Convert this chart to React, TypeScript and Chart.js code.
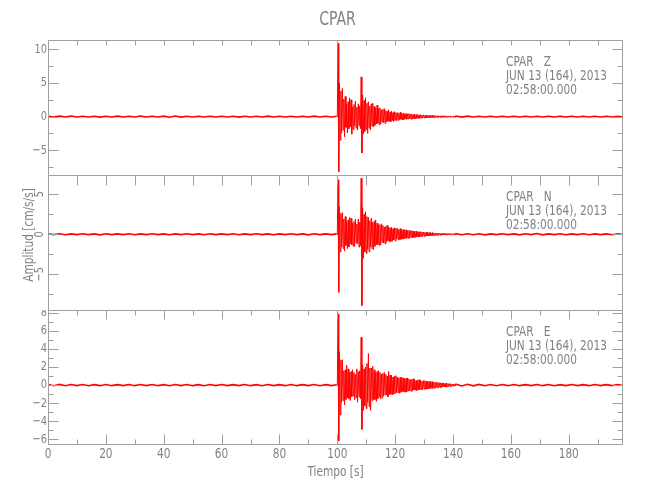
import React, { useEffect, useRef } from "react";
import { Chart, registerables } from "chart.js";

Chart.register(...registerables);

// ---------- axis data ----------
const timeMin = 0;
const timeMax = 198.75;
const timeMajorTicks = [0, 20, 40, 60, 80, 100, 120, 140, 160, 180];
const timeMinorTicks = [10, 30, 50, 70, 90, 110, 130, 150, 170, 190];

const preStart = 0;
const preStep = 2;
const eventStart = 99.75;
const eventStep = 0.25;
const codaStart = 141;
const codaStep = 2;

// ---------- Z component (cm/s/s) ----------
const zPre = [
  0.05, -0.06, 0.07, -0.05, 0.08, -0.06, 0.05, -0.05, 0.06, -0.08,
  0.05, -0.05, 0.07, -0.06, 0.05, -0.06, 0.08, -0.05, 0.05, -0.06,
  0.07, -0.1, 0.1, -0.07, 0.05, -0.05, 0.06, -0.05, 0.05, -0.06,
  0.06, -0.05, 0.05, -0.07, 0.06, -0.05, 0.05, -0.06, 0.07, -0.05,
  0.05, -0.06, 0.06, -0.05, 0.05, -0.05, 0.07, -0.06, 0.05, -0.05,
];
const zEvent = [
  0.05, -0.05, 10.9, -8.2,
  5.0, -3.5, 3.8, -2.4,
  4.2, -2.0, 2.6, -3.0,
  3.0, -1.6, 1.8, -2.4,
  2.2, -1.8, 2.8, -1.5,
  2.5, -2.6, 1.4, -1.9,
  1.8, -1.4, 2.3, -1.7,
  1.4, -2.0, 1.9, -1.3,
  1.6, -1.8, 5.9, -5.4,
  3.2, -2.6, 2.4, -2.2,
  2.8, -1.9, 2.0, -2.5,
  2.2, -1.7, 1.6, -2.0,
  1.9, -1.4, 2.0, -1.5,
  1.5, -1.3, 1.3, -1.1,
  1.7, -1.0, 1.2, -1.2,
  1.3, -1.1, 1.0, -0.8,
  1.1, -0.9, 1.2, -1.0,
  0.9, -0.8, 0.8, -0.7,
  1.0, -0.7, 0.7, -0.75,
  0.8, -0.6, 0.6, -0.7,
  0.75, -0.5, 0.6, -0.6,
  0.6, -0.55, 0.5, -0.45,
  0.65, -0.4, 0.45, -0.5,
  0.5, -0.45, 0.4, -0.35,
  0.45, -0.4, 0.4, -0.35,
  0.45, -0.35, 0.35, -0.4,
  0.4, -0.3, 0.3, -0.35,
  0.35, -0.3, 0.3, -0.25,
  0.3, -0.28, 0.25, -0.25,
  0.28, -0.22, 0.22, -0.2,
  0.25, -0.2, 0.2, -0.22,
  0.22, -0.18, 0.18, -0.18,
  0.18, -0.16, 0.16, -0.14,
  0.2, -0.13, 0.13, -0.16,
  0.16, -0.12, 0.12, -0.12,
  0.15, -0.12, 0.1, -0.12,
  0.12, -0.1, 0.12, -0.1,
  0.12, -0.1, 0.1, -0.09,
  0.09, -0.09, 0.1, -0.08,
  0.1, -0.08, 0.08, -0.07,
  0.08, -0.07, 0.07, -0.08,
];
const zCoda = [
  0.08, -0.07, 0.07, -0.06, 0.06, -0.05, 0.05, -0.06, 0.05, -0.05,
  0.06, -0.05, 0.05, -0.06, 0.06, -0.05, 0.05, -0.05, 0.06, -0.06,
  0.05, -0.05, 0.06, -0.06, 0.05, -0.05, 0.06, -0.05, 0.05, -0.06,
];

// ---------- N component ----------
const nPre = [
  0.05, -0.05, 0.07, -0.06, 0.05, -0.05, 0.06, -0.05, 0.05, -0.07,
  0.06, -0.05, 0.05, -0.05, 0.07, -0.06, 0.05, -0.05, 0.06, -0.05,
  0.05, -0.06, 0.05, -0.05, 0.07, -0.05, 0.05, -0.06, 0.06, -0.05,
  0.05, -0.05, 0.07, -0.06, 0.05, -0.05, 0.06, -0.05, 0.05, -0.06,
  0.05, -0.05, 0.06, -0.05, 0.05, -0.07, 0.06, -0.05, 0.05, -0.05,
];
const nEvent = [
  0.05, -0.05, 6.8, -7.25,
  3.45, -2.2, 2.6, -1.6,
  2.7, -1.8, 1.9, -2.1,
  2.2, -1.4, 1.6, -1.8,
  1.8, -1.6, 2.1, -1.2,
  2.0, -1.3, 1.4, -1.5,
  1.6, -1.5, 1.9, -1.1,
  1.3, -1.2, 1.9, -1.6,
  1.5, -1.4, 7.0, -8.9,
  3.3, -3.0, 2.5, -2.2,
  2.8, -2.4, 2.2, -1.9,
  2.1, -2.2, 1.7, -1.6,
  2.0, -1.8, 1.5, -1.9,
  1.6, -1.5, 1.8, -1.3,
  1.4, -1.3, 1.2, -1.4,
  1.2, -1.3, 1.3, -1.0,
  1.1, -1.1, 0.9, -1.2,
  1.0, -1.0, 1.1, -0.8,
  0.9, -0.95, 0.8, -0.9,
  0.85, -0.9, 0.7, -0.7,
  0.8, -0.85, 0.75, -0.6,
  0.75, -0.7, 0.6, -0.65,
  0.7, -0.65, 0.55, -0.6,
  0.6, -0.6, 0.5, -0.5,
  0.55, -0.5, 0.45, -0.5,
  0.5, -0.5, 0.45, -0.4,
  0.45, -0.45, 0.4, -0.4,
  0.4, -0.4, 0.35, -0.35,
  0.35, -0.35, 0.3, -0.32,
  0.32, -0.28, 0.28, -0.27,
  0.28, -0.26, 0.24, -0.25,
  0.25, -0.22, 0.22, -0.2,
  0.22, -0.2, 0.18, -0.18,
  0.2, -0.17, 0.16, -0.16,
  0.16, -0.15, 0.13, -0.15,
  0.15, -0.12, 0.12, -0.12,
  0.12, -0.11, 0.11, -0.1,
  0.11, -0.1, 0.09, -0.1,
  0.09, -0.09, 0.1, -0.08,
  0.1, -0.08, 0.08, -0.08,
  0.08, -0.07, 0.07, -0.08,
];
const nCoda = [
  0.07, -0.06, 0.07, -0.06, 0.06, -0.07, 0.05, -0.05, 0.07, -0.05,
  0.05, -0.07, 0.07, -0.05, 0.1, -0.08, 0.05, -0.05, 0.07, -0.06,
  0.05, -0.05, 0.06, -0.06, 0.05, -0.05, 0.05, -0.06, 0.05, -0.05,
];

// ---------- E component ----------
const ePre = [
  0.07, -0.06, 0.08, -0.06, 0.07, -0.05, 0.06, -0.07, 0.05, -0.06,
  0.07, -0.06, 0.05, -0.05, 0.07, -0.06, 0.06, -0.05, 0.07, -0.06,
  0.05, -0.07, 0.06, -0.05, 0.07, -0.06, 0.05, -0.07, 0.06, -0.05,
  0.06, -0.06, 0.05, -0.05, 0.07, -0.06, 0.05, -0.07, 0.06, -0.05,
  0.05, -0.06, 0.07, -0.06, 0.05, -0.05, 0.06, -0.07, 0.05, -0.05,
];
const eEvent = [
  0.05, -0.05, 7.9, -6.2,
  3.7, -3.3, 2.8, -1.9,
  2.8, -1.7, 1.6, -2.2,
  1.7, -1.6, 2.2, -1.4,
  1.8, -1.5, 1.4, -1.7,
  1.5, -1.3, 1.7, -1.2,
  1.4, -1.6, 1.2, -1.4,
  1.8, -1.9, 1.5, -1.3,
  1.6, -1.5, 5.3, -4.9,
  2.2, -2.8, 1.8, -2.3,
  2.0, -2.6, 2.4, -1.9,
  3.5, -2.4, 1.9, -2.8,
  1.9, -1.7, 2.1, -1.6,
  1.7, -1.6, 1.4, -1.8,
  1.5, -1.5, 1.6, -1.3,
  1.4, -1.5, 1.2, -1.4,
  1.3, -1.2, 1.4, -1.1,
  1.2, -1.1, 1.0, -1.3,
  1.5, -1.1, 1.1, -1.0,
  1.1, -1.1, 0.9, -1.0,
  1.0, -0.9, 1.05, -0.85,
  0.9, -0.85, 0.8, -0.9,
  0.85, -0.8, 0.9, -0.7,
  0.8, -0.75, 0.7, -0.8,
  0.75, -0.74, 0.8, -0.65,
  0.7, -0.65, 0.6, -0.7,
  0.65, -0.6, 0.7, -0.55,
  0.6, -0.55, 0.5, -0.6,
  0.55, -0.55, 0.6, -0.5,
  0.55, -0.5, 0.45, -0.5,
  0.5, -0.45, 0.5, -0.45,
  0.45, -0.45, 0.4, -0.42,
  0.4, -0.38, 0.42, -0.35,
  0.38, -0.36, 0.33, -0.35,
  0.34, -0.32, 0.3, -0.28,
  0.3, -0.28, 0.26, -0.28,
  0.26, -0.24, 0.24, -0.2,
  0.22, -0.2, 0.2, -0.22,
  0.2, -0.18, 0.18, -0.15,
  0.16, -0.14, 0.14, -0.15,
  0.13, -0.12, 0.12, -0.1,
];
const eCoda = [
  0.1, -0.09, 0.09, -0.08, 0.08, -0.07, 0.07, -0.07, 0.06, -0.06,
  0.07, -0.06, 0.05, -0.05, 0.07, -0.06, 0.06, -0.07, 0.05, -0.05,
  0.06, -0.05, 0.05, -0.06, 0.07, -0.05, 0.05, -0.05, 0.06, -0.05,
];

// ---------- y axes ----------
const zRange = [-8.67, 11.38];
const zMajor = [10, 5, 0, -5];
const zMajorLabels = ["10", "5", "0", "\u22125"];
const zMinor = [7.5, 2.5, -2.5, -7.5];

const nRange = [-9.46, 7.4];
const nMajor = [5, 0, -5];
const nMajorLabels = ["5", "0", "\u22125"];
const nMinor = [2.5, -2.5, -7.5];

const eRange = [-6.64, 8.33];
const eMajor = [8, 6, 4, 2, 0, -2, -4, -6];
const eMajorLabels = ["8", "6", "4", "2", "0", "\u22122", "\u22124", "\u22126"];
const eMinor = [7, 5, 3, 1, -1, -3, -5];

// ---------- texts ----------
const stationName = "CPAR";
const componentNames = ["Z", "N", "E"];
const dateLine = "JUN 13 (164), 2013";
const timeLine = "02:58:00.000";
const xTitle = "Tiempo [s]";
const yTitle = "Amplitud [cm/s/s]";

const FONT = "'DejaVu Sans Condensed', 'DejaVu Sans', sans-serif";
const FRAME = "#a0a0a0";
const TEXT = "#828282";
const TRACE = "#ff0000";
const SQUEEZE = 0.84;

function buildTrace(pre: number[], ev: number[], coda: number[]) {
  const pts: { x: number; y: number }[] = [];
  pre.forEach((v, i) => pts.push({ x: preStart + i * preStep, y: v }));
  ev.forEach((v, i) => pts.push({ x: eventStart + i * eventStep, y: v }));
  coda.forEach((v, i) => pts.push({ x: codaStart + i * codaStep, y: v }));
  return pts;
}

function drawText(
  ctx: CanvasRenderingContext2D,
  text: string,
  x: number,
  y: number,
  size: number,
  align: CanvasTextAlign,
  baseline: CanvasTextBaseline,
  rotate = 0,
  sx = SQUEEZE
) {
  ctx.save();
  ctx.font = `${size}px ${FONT}`;
  ctx.translate(x, y);
  if (rotate) ctx.rotate(rotate);
  ctx.scale(sx, 1);
  ctx.textAlign = align;
  ctx.textBaseline = baseline;
  ctx.fillText(text, 0, 0);
  ctx.restore();
}

type PanelCfg = {
  top: number;
  height: number;
  padTop: number;
  padBottom: number;
  range: number[];
  major: number[];
  majorLabels: string[];
  minor: number[];
  comp: string;
  trace: { x: number; y: number }[];
  rotateYLabels?: boolean;
  xTopMajorLen: number;
  xTopMinorLen: number;
  bottomAxis?: boolean;
  showTitle?: boolean;
  showYTitle?: boolean;
};

const panels: PanelCfg[] = [
  {
    top: 0, height: 175, padTop: 40, padBottom: 0,
    range: zRange, major: zMajor, majorLabels: zMajorLabels, minor: zMinor,
    comp: componentNames[0], trace: buildTrace(zPre, zEvent, zCoda),
    xTopMajorLen: 5, xTopMinorLen: 5, showTitle: true,
  },
  {
    top: 175, height: 135, padTop: 0, padBottom: 0,
    range: nRange, major: nMajor, majorLabels: nMajorLabels, minor: nMinor,
    comp: componentNames[1], trace: buildTrace(nPre, nEvent, nCoda),
    rotateYLabels: true, xTopMajorLen: 10, xTopMinorLen: 10, showYTitle: true,
  },
  {
    top: 310, height: 190, padTop: 0, padBottom: 55,
    range: eRange, major: eMajor, majorLabels: eMajorLabels, minor: eMinor,
    comp: componentNames[2], trace: buildTrace(ePre, eEvent, eCoda),
    xTopMajorLen: 9, xTopMinorLen: 5, bottomAxis: true,
  },
];

function makePlugin(p: PanelCfg) {
  return {
    id: "seismoFrame",
    afterDatasetsDraw(chart: any) {
      const { ctx, chartArea: a } = chart;
      const xs = chart.scales.x;
      const ys = chart.scales.y;
      const L = Math.round(a.left) + 0.5;
      const R = Math.round(a.right) - 0.5;
      const T = Math.round(a.top) + 0.5;
      const B = Math.round(a.bottom) - 0.5;
      ctx.save();
      ctx.strokeStyle = FRAME;
      ctx.lineWidth = 1;
      ctx.beginPath();
      ctx.moveTo(L, T); ctx.lineTo(R, T);
      ctx.moveTo(L, T); ctx.lineTo(L, a.bottom);
      ctx.moveTo(R, T); ctx.lineTo(R, a.bottom);
      if (p.bottomAxis) { ctx.moveTo(L, B); ctx.lineTo(R, B); }
      p.major.forEach((v) => {
        const py = Math.round(ys.getPixelForValue(v)) + 0.5;
        ctx.moveTo(L, py); ctx.lineTo(L + 10, py);
        ctx.moveTo(R, py); ctx.lineTo(R - 10, py);
      });
      p.minor.forEach((v) => {
        const py = Math.round(ys.getPixelForValue(v)) + 0.5;
        ctx.moveTo(L, py); ctx.lineTo(L + 5, py);
        ctx.moveTo(R, py); ctx.lineTo(R - 5, py);
      });
      timeMajorTicks.forEach((v) => {
        const px = Math.round(xs.getPixelForValue(v)) + 0.5;
        ctx.moveTo(px, T); ctx.lineTo(px, T + p.xTopMajorLen);
        if (p.bottomAxis) { ctx.moveTo(px, B); ctx.lineTo(px, B - 10); }
      });
      timeMinorTicks.forEach((v) => {
        const px = Math.round(xs.getPixelForValue(v)) + 0.5;
        ctx.moveTo(px, T); ctx.lineTo(px, T + p.xTopMinorLen);
        if (p.bottomAxis) { ctx.moveTo(px, B); ctx.lineTo(px, B - 5); }
      });
      ctx.stroke();

      ctx.fillStyle = TEXT;
      p.major.forEach((v, i) => {
        const py = ys.getPixelForValue(v);
        const label = p.majorLabels[i];
        if (p.rotateYLabels) {
          drawText(ctx, label, a.left - 2, py, 13, "center", "bottom", -Math.PI / 2);
        } else {
          drawText(ctx, label, a.left - 1, py, 13, "right", "middle");
        }
      });

      const tx = 506;
      drawText(ctx, `${stationName}   ${p.comp}`, tx, a.top + 22, 14, "left", "middle");
      drawText(ctx, dateLine, tx, a.top + 36, 14, "left", "middle");
      drawText(ctx, timeLine, tx, a.top + 50, 14, "left", "middle");

      if (p.showTitle) {
        drawText(ctx, stationName, (a.left + a.right) / 2 + 2, 20, 20, "center", "middle", 0, 0.78);
      }
      if (p.showYTitle) {
        drawText(ctx, yTitle, 29, 235 - p.top, 14, "center", "middle", -Math.PI / 2);
      }
      if (p.bottomAxis) {
        timeMajorTicks.forEach((v) => {
          drawText(ctx, String(v), xs.getPixelForValue(v), a.bottom + 9, 14, "center", "middle");
        });
        drawText(ctx, xTitle, (a.left + a.right) / 2, a.bottom + 27, 14, "center", "middle");
      }
      ctx.restore();
    },
  };
}

function Panel({ cfg }: { cfg: PanelCfg }) {
  const ref = useRef<HTMLCanvasElement | null>(null);
  useEffect(() => {
    if (!ref.current) return;
    const inEvent = (c: any) => c.p0.parsed.x >= eventStart && c.p1.parsed.x < codaStart;
    const chart = new Chart(ref.current, {
      type: "line",
      data: {
        datasets: [
          {
            data: cfg.trace,
            borderColor: TRACE,
            borderWidth: 1.6,
            pointRadius: 0,
            tension: 0,
            fill: false,
            segment: {
              borderWidth: (c: any) => (inEvent(c) ? 1 : 1.6),
            },
          },
        ],
      },
      options: {
        animation: false,
        responsive: false,
        events: [],
        layout: { padding: { left: 48, right: 27, top: cfg.padTop, bottom: cfg.padBottom } },
        plugins: { legend: { display: false }, tooltip: { enabled: false }, title: { display: false } },
        scales: {
          x: { type: "linear", min: timeMin, max: timeMax, display: false },
          y: { type: "linear", min: cfg.range[0], max: cfg.range[1], display: false },
        },
      },
      plugins: [makePlugin(cfg)],
    } as any);
    return () => chart.destroy();
  }, [cfg]);
  return (
    <canvas
      ref={ref}
      width={650}
      height={cfg.height}
      style={{ position: "absolute", left: 0, top: cfg.top, width: 650, height: cfg.height }}
    />
  );
}

export default function App() {
  return (
    <div style={{ position: "fixed", left: 0, top: 0, width: 650, height: 500, background: "#ffffff" }}>
      {panels.map((p, i) => (
        <Panel key={i} cfg={p} />
      ))}
    </div>
  );
}
